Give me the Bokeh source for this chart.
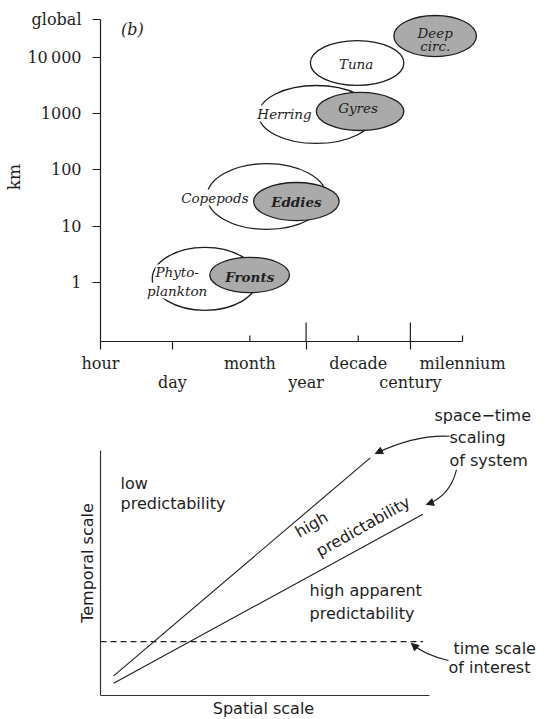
import numpy as np
from bokeh.plotting import figure
from bokeh.layouts import column
from bokeh.models import (FixedTicker, ColumnDataSource, LabelSet, Label, Arrow,
                          NormalHead, Range1d, LinearAxis)
from bokeh.core.properties import value
from bokeh.embed import file_html
from bokeh.resources import INLINE

# ================= Panel (b): space-time diagram =================
time_names = ["hour", "day", "month", "year", "decade", "century", "milennium"]
time_days = [1 / 24, 1, 30.44, 365.25, 3652.5, 36525, 365250]
time_label_row = [0, 1, 0, 1, 0, 1, 0]
time_down_tick = [1, 1, 0, 1, 0, 1, 0]   # ticks hanging below the time axis
time_up_tick = [0, 0, 1, 2, 1, 2, 1]     # ticks rising above it (0 none, 1 short, 2 long)

space_km = [1, 10, 100, 1000, 10000]
space_names = ["1", "10", "100", "1000", "10\u2009000"]
global_km = 48000  # top of axis, "global"

# biological patterns (open ellipses): time span [days], space span [km]
bio_t_min = [0.41, 4.6, 45, 441]
bio_t_max = [43, 890, 7330, 27400]
bio_s_min = [0.32, 8.8, 296, 3180]
bio_s_max = [4.2, 130, 3180, 20000]
bio_label_text = ["Phyto-", "plankton", "Copepods", "Herring", "Tuna"]
bio_label_days = [1.23, 1.23, 6.5, 141, 3330]
bio_label_km = [1.51, 0.72, 32.4, 1009, 7820]

# physical patterns (shaded ellipses)
phys_t_min = [5.2, 36, 574, 17600]
phys_t_max = [175, 1570, 27350, 675000]
phys_s_min = [0.66, 12.6, 504, 10400]
phys_s_max = [2.8, 60, 2390, 55800]
phys_bold_text = ["Fronts", "Eddies"]
phys_bold_days = [30.3, 238]
phys_bold_km = [1.23, 27.5]
phys_text = ["Gyres", "Deep", "circ."]
phys_days = [3630, 109600, 109600]
phys_km = [1240, 27800, 16300]

# ================= Lower schematic (axes fractions) =================
upper_x = [0.04, 0.82]
upper_y = [0.08, 0.97]
lower_x = [0.04, 0.98]
lower_y = [0.05, 0.74]
interest_x = [0.0, 0.98]
interest_y = [0.22, 0.22]


def lg(v):
    return np.log10(np.asarray(v, dtype=float))


SERIF = "DejaVu Serif"
SANS = "DejaVu Sans"
INK = "#1e1e1e"

tx = lg(time_days)
sy = lg(space_km)
gy = float(lg([global_km])[0])
PXD_Y = 56.25  # px per decade on the km axis (tick lengths)
Y0 = -1.049
X_END = tx[-1] + 90 / 52.15

p = figure(width=552, height=406,
           x_range=Range1d(tx[0], X_END), y_range=Range1d(Y0, 4.80),
           output_backend="svg", toolbar_location=None,
           min_border_left=100, min_border_right=0, min_border_top=12, min_border_bottom=65)
p.outline_line_color = None
p.grid.visible = False

# y axis
p.yaxis.ticker = FixedTicker(ticks=[float(v) for v in sy] + [gy])
ov = {float(v): n for v, n in zip(sy, space_names)}
ov[gy] = "global"
p.yaxis.major_label_overrides = ov
p.yaxis.bounds = (Y0, gy)
p.yaxis.major_tick_out = 8
p.yaxis.major_tick_in = 0
p.yaxis.minor_tick_line_color = None
p.yaxis.major_label_standoff = 11
p.yaxis.major_label_text_font = SERIF
p.yaxis.major_label_text_font_size = "16px"
p.yaxis.major_label_text_color = INK
p.yaxis.axis_line_color = INK
p.yaxis.major_tick_line_color = INK
p.yaxis.axis_line_width = 1.2
p.yaxis.axis_label = "km"
p.yaxis.axis_label_text_font = SERIF
p.yaxis.axis_label_text_font_style = "normal"
p.yaxis.axis_label_text_font_size = "17px"
p.yaxis.axis_label_text_color = INK
p.yaxis.axis_label_standoff = 0

# x axis: line + hanging ticks (no labels)
p.xaxis.ticker = FixedTicker(ticks=[float(v) for v, d in zip(tx, time_down_tick) if d])
p.xaxis.bounds = (tx[0], tx[-1])
p.xaxis.major_tick_out = 8
p.xaxis.major_tick_in = 0
p.xaxis.minor_tick_line_color = None
p.xaxis.major_label_text_font_size = "0px"
p.xaxis.major_label_text_color = None
p.xaxis.major_label_standoff = 0
p.xaxis.axis_line_color = INK
p.xaxis.major_tick_line_color = INK
p.xaxis.axis_line_width = 1.2
p.xaxis.major_tick_line_width = 1.2


def label_axis(row, standoff):
    ticks = [float(v) for v, r in zip(tx, time_label_row) if r == row]
    ax = LinearAxis(ticker=FixedTicker(ticks=ticks))
    ax.major_label_overrides = {float(v): n for v, n, r in zip(tx, time_names, time_label_row)
                                if r == row}
    ax.axis_line_color = None
    ax.major_tick_line_color = None
    ax.minor_tick_line_color = None
    ax.major_tick_out = 0
    ax.major_tick_in = 0
    ax.major_label_standoff = standoff
    ax.major_label_text_font = SERIF
    ax.major_label_text_font_size = "16px"
    ax.major_label_text_color = INK
    p.add_layout(ax, "below")


label_axis(0, 4)    # hour, month, decade, milennium
label_axis(1, -3)   # day, year, century

# rising ticks
up_len = [0, 6, 19]
p.segment(x0=tx, y0=[Y0] * len(tx), x1=tx, y1=[Y0 + up_len[u] / PXD_Y for u in time_up_tick],
          line_color=INK, line_width=1.2)

# ellipses
bio = ColumnDataSource(dict(
    x=(lg(bio_t_min) + lg(bio_t_max)) / 2, y=(lg(bio_s_min) + lg(bio_s_max)) / 2,
    w=lg(bio_t_max) - lg(bio_t_min), h=lg(bio_s_max) - lg(bio_s_min)))
p.ellipse(x="x", y="y", width="w", height="h", source=bio,
          fill_color="white", line_color=INK, line_width=1.3)
phys = ColumnDataSource(dict(
    x=(lg(phys_t_min) + lg(phys_t_max)) / 2, y=(lg(phys_s_min) + lg(phys_s_max)) / 2,
    w=lg(phys_t_max) - lg(phys_t_min), h=lg(phys_s_max) - lg(phys_s_min)))
p.ellipse(x="x", y="y", width="w", height="h", source=phys,
          fill_color="#aaaaaa", line_color=INK, line_width=1.3)

bl = ColumnDataSource(dict(x=lg(bio_label_days), y=lg(bio_label_km), t=bio_label_text))
p.add_layout(LabelSet(x="x", y="y", text="t", source=bl, text_align="center",
                      text_baseline="middle", text_font=value(SERIF), text_font_style="italic",
                      text_font_size="13.5px", text_color=INK,
                      background_fill_color="white"))
pb = ColumnDataSource(dict(x=lg(phys_bold_days), y=lg(phys_bold_km), t=phys_bold_text))
p.text(x="x", y="y", text="t", source=pb, text_align="center", text_baseline="middle",
       text_font=value(SERIF), text_font_style="bold italic", text_font_size="13.5px",
       text_color=INK)
pn = ColumnDataSource(dict(x=lg(phys_days), y=lg(phys_km), t=phys_text))
p.text(x="x", y="y", text="t", source=pn, text_align="center", text_baseline="middle",
       text_font=value(SERIF), text_font_style="italic", text_font_size="13.5px",
       text_color=INK)

p.add_layout(Label(x=-0.77, y=4.5, text="(b)", text_font=SERIF, text_font_style="italic",
                   text_font_size="16px", text_align="center", text_baseline="middle",
                   text_color=INK))

# ================= lower panel =================
q = figure(width=552, height=313, x_range=Range1d(0, 452 / 329),
           y_range=Range1d(-24 / 245, 289 / 245),
           output_backend="svg", toolbar_location=None,
           min_border_left=100, min_border_right=0, min_border_top=0, min_border_bottom=0)
q.outline_line_color = None
q.grid.visible = False
for ax in (q.xaxis, q.yaxis):
    ax.bounds = (0, 1)
    ax.ticker = FixedTicker(ticks=[])
    ax.major_tick_out = 0
    ax.major_tick_in = 0
    ax.minor_tick_line_color = None
    ax.major_label_text_font_size = "0px"
    ax.major_label_text_color = None
    ax.major_label_standoff = 0
    ax.axis_line_color = "#333333"
    ax.axis_line_width = 1.2
q.xaxis.fixed_location = 0
q.yaxis.axis_label = "Temporal scale"
q.yaxis.axis_label_text_font = SANS
q.yaxis.axis_label_text_font_style = "normal"
q.yaxis.axis_label_text_font_size = "16px"
q.yaxis.axis_label_text_color = INK
q.yaxis.axis_label_standoff = 4

q.line(upper_x, upper_y, line_color=INK, line_width=1.1)
q.line(lower_x, lower_y, line_color=INK, line_width=1.1)
q.line(interest_x, interest_y, line_color=INK, line_width=1.1, line_dash="6 4")

# curved pointer arrows
cx0 = [1.0608, 1.0821, 1.0578]
cy0 = [1.0580, 0.9224, 0.1429]
cx1 = [0.8359, 0.9909, 0.9453]
cy1 = [0.9878, 0.7796, 0.2122]
ccx = [0.9574, 1.0638, 0.9878]
ccy = [1.0650, 0.8163, 0.1633]
q.quadratic(x0=cx0, y0=cy0, x1=cx1, y1=cy1, cx=ccx, cy=ccy, line_color=INK, line_width=1.1)
for a, b, c, d in zip(ccx, ccy, cx1, cy1):
    q.add_layout(Arrow(end=NormalHead(size=7, fill_color=INK, line_color=INK),
                       x_start=a, y_start=b, x_end=c, y_end=d, line_alpha=0))


def qt(x, y, t, align="left", angle=0.0):
    q.text(x=[x], y=[y], text=[t], text_align=align, text_baseline="middle", angle=angle,
           text_font=value(SANS), text_font_size="16px", text_color=INK)


qt(0.0608, 0.8653, "low")
qt(0.0608, 0.7837, "predictability")
qt(1.0152, 1.1429, "space\u2212time")
qt(1.0608, 1.0531, "scaling")
qt(1.0608, 0.9592, "of system")
qt(0.6413, 0.698, "high", "center", np.radians(30))
qt(0.7979, 0.6898, "predictability", "center", np.radians(29.5))
qt(0.6353, 0.4286, "high apparent")
qt(0.6353, 0.3347, "predictability")
qt(1.0729, 0.1918, "time scale")
qt(1.0578, 0.1143, "of interest")
qt(0.4954, -0.053, "Spatial scale", "center")

layout = column(p, q, spacing=0)
open("out.html", "w").write(file_html(layout, INLINE))
